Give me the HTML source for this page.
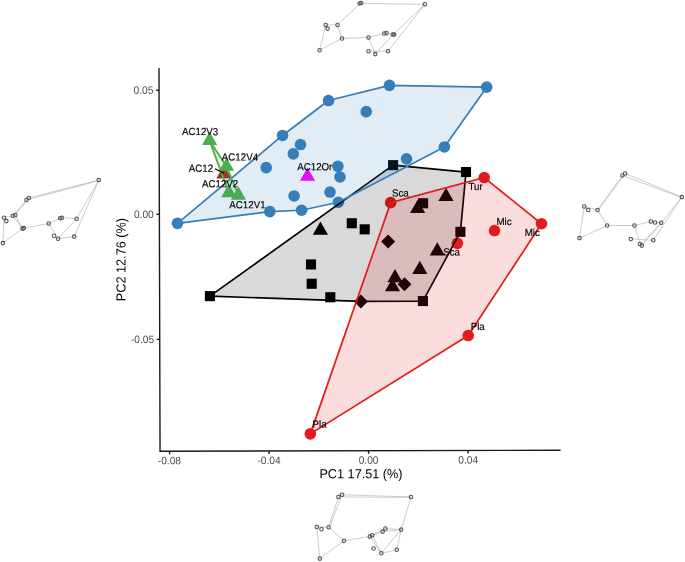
<!DOCTYPE html><html><head><meta charset="utf-8"><style>html,body{margin:0;padding:0;background:#fff;width:685px;height:562px;overflow:hidden}svg{display:block;will-change:transform}text{font-family:"Liberation Sans",sans-serif}</style></head><body>
<svg width="685" height="562" viewBox="0 0 685 562">
<rect width="685" height="562" fill="#fff"/>
<g stroke="#b4b4b4" stroke-width="0.7" fill="none">
<line x1="360.2" y1="3.4" x2="424.8" y2="4.3"/>
<line x1="360.2" y1="3.4" x2="337.5" y2="24.9"/>
<line x1="325.7" y1="24.9" x2="337.5" y2="24.9"/>
<line x1="325.7" y1="24.9" x2="319.6" y2="50.2"/>
<line x1="319.6" y1="50.2" x2="342.0" y2="38.4"/>
<line x1="337.5" y1="24.9" x2="342.0" y2="38.4"/>
<line x1="342.0" y1="38.4" x2="368.5" y2="37.4"/>
<line x1="368.5" y1="37.4" x2="384.3" y2="33.4"/>
<line x1="386.5" y1="33.1" x2="393.4" y2="34.4"/>
<line x1="424.8" y1="4.3" x2="393.4" y2="34.4"/>
<line x1="424.8" y1="4.3" x2="388.0" y2="51.2"/>
<line x1="393.4" y1="34.4" x2="375.3" y2="54.1"/>
<line x1="368.5" y1="37.4" x2="375.3" y2="54.1"/>
<line x1="368.5" y1="51.2" x2="388.0" y2="51.2"/>
<line x1="28.9" y1="197.9" x2="98.8" y2="180.1"/>
<line x1="26.5" y1="200.0" x2="98.8" y2="180.6"/>
<line x1="26.5" y1="200.0" x2="12.8" y2="215.8"/>
<line x1="28.9" y1="197.9" x2="15.3" y2="215.0"/>
<line x1="15.3" y1="215.0" x2="22.5" y2="228.6"/>
<line x1="12.8" y1="215.8" x2="22.5" y2="228.6"/>
<line x1="12.8" y1="215.8" x2="4.0" y2="217.7"/>
<line x1="4.0" y1="217.7" x2="2.9" y2="243.1"/>
<line x1="2.9" y1="243.1" x2="22.5" y2="228.6"/>
<line x1="23.8" y1="228.1" x2="48.7" y2="223.5"/>
<line x1="48.7" y1="223.5" x2="60.2" y2="218.2"/>
<line x1="61.8" y1="217.7" x2="76.6" y2="218.7"/>
<line x1="98.8" y1="180.1" x2="76.6" y2="218.7"/>
<line x1="98.8" y1="180.1" x2="74.2" y2="236.6"/>
<line x1="48.7" y1="223.5" x2="58.1" y2="238.7"/>
<line x1="58.1" y1="238.7" x2="76.6" y2="218.7"/>
<line x1="58.1" y1="238.7" x2="74.2" y2="236.6"/>
<line x1="625.1" y1="173.4" x2="681.8" y2="197.1"/>
<line x1="622.4" y1="175.4" x2="681.8" y2="197.6"/>
<line x1="622.4" y1="175.4" x2="597.5" y2="210.0"/>
<line x1="624.0" y1="175.0" x2="598.5" y2="210.0"/>
<line x1="584.3" y1="206.4" x2="597.5" y2="210.0"/>
<line x1="584.3" y1="206.4" x2="579.5" y2="238.1"/>
<line x1="579.5" y1="238.1" x2="607.1" y2="225.5"/>
<line x1="597.5" y1="210.0" x2="607.1" y2="225.5"/>
<line x1="607.1" y1="225.5" x2="634.4" y2="225.5"/>
<line x1="634.4" y1="225.5" x2="650.8" y2="221.5"/>
<line x1="634.4" y1="225.5" x2="640.8" y2="244.8"/>
<line x1="630.8" y1="238.9" x2="653.3" y2="240.3"/>
<line x1="640.8" y1="244.8" x2="661.2" y2="222.8"/>
<line x1="641.8" y1="245.6" x2="661.2" y2="223.4"/>
<line x1="661.2" y1="222.8" x2="681.8" y2="197.1"/>
<line x1="653.3" y1="240.3" x2="681.8" y2="197.1"/>
<line x1="655.1" y1="222.5" x2="661.2" y2="222.8"/>
<line x1="342.1" y1="494.8" x2="411.0" y2="496.9"/>
<line x1="338.4" y1="496.9" x2="411.0" y2="497.4"/>
<line x1="338.4" y1="496.9" x2="328.6" y2="527.3"/>
<line x1="342.1" y1="494.8" x2="329.6" y2="527.0"/>
<line x1="328.6" y1="527.3" x2="316.8" y2="526.9"/>
<line x1="316.8" y1="526.9" x2="319.8" y2="558.6"/>
<line x1="319.8" y1="558.6" x2="343.9" y2="540.8"/>
<line x1="343.9" y1="540.8" x2="328.6" y2="527.3"/>
<line x1="343.9" y1="540.8" x2="369.8" y2="536.6"/>
<line x1="369.8" y1="536.6" x2="382.6" y2="531.6"/>
<line x1="372.3" y1="535.3" x2="385.4" y2="528.5"/>
<line x1="385.4" y1="528.5" x2="401.2" y2="529.6"/>
<line x1="382.6" y1="531.6" x2="401.2" y2="529.6"/>
<line x1="369.8" y1="536.6" x2="381.3" y2="553.3"/>
<line x1="372.3" y1="535.3" x2="381.3" y2="553.3"/>
<line x1="381.3" y1="553.3" x2="401.2" y2="529.6"/>
<line x1="381.3" y1="553.3" x2="396.8" y2="549.8"/>
<line x1="396.8" y1="549.8" x2="401.2" y2="529.6"/>
<line x1="401.2" y1="529.6" x2="411.0" y2="496.9"/>
</g><g stroke="#505050" stroke-width="1.05" fill="none">
<circle cx="359.6" cy="3.5" r="1.75"/>
<circle cx="361.2" cy="3.0" r="1.75"/>
<circle cx="424.8" cy="4.3" r="1.75"/>
<circle cx="325.7" cy="24.9" r="1.75"/>
<circle cx="327.6" cy="28.6" r="1.75"/>
<circle cx="337.5" cy="24.9" r="1.75"/>
<circle cx="342.0" cy="38.4" r="1.75"/>
<circle cx="319.6" cy="50.2" r="1.75"/>
<circle cx="368.5" cy="37.4" r="1.75"/>
<circle cx="384.3" cy="33.4" r="1.75"/>
<circle cx="386.5" cy="33.1" r="1.75"/>
<circle cx="392.8" cy="34.5" r="1.75"/>
<circle cx="394.2" cy="34.5" r="1.75"/>
<circle cx="368.5" cy="51.2" r="1.75"/>
<circle cx="375.3" cy="54.1" r="1.75"/>
<circle cx="388.0" cy="51.2" r="1.75"/>
<circle cx="98.8" cy="180.1" r="1.75"/>
<circle cx="26.5" cy="200.0" r="1.75"/>
<circle cx="28.9" cy="197.9" r="1.75"/>
<circle cx="12.8" cy="215.8" r="1.75"/>
<circle cx="15.3" cy="215.0" r="1.75"/>
<circle cx="4.0" cy="217.7" r="1.75"/>
<circle cx="6.4" cy="221.1" r="1.75"/>
<circle cx="22.5" cy="228.6" r="1.75"/>
<circle cx="23.8" cy="228.1" r="1.75"/>
<circle cx="2.9" cy="243.1" r="1.75"/>
<circle cx="48.7" cy="223.5" r="1.75"/>
<circle cx="60.2" cy="218.2" r="1.75"/>
<circle cx="61.8" cy="217.7" r="1.75"/>
<circle cx="76.6" cy="218.7" r="1.75"/>
<circle cx="54.1" cy="235.8" r="1.75"/>
<circle cx="58.1" cy="238.7" r="1.75"/>
<circle cx="74.2" cy="236.6" r="1.75"/>
<circle cx="622.4" cy="175.4" r="1.75"/>
<circle cx="625.1" cy="173.4" r="1.75"/>
<circle cx="681.8" cy="197.1" r="1.75"/>
<circle cx="584.3" cy="206.4" r="1.75"/>
<circle cx="588.2" cy="210.0" r="1.75"/>
<circle cx="597.5" cy="210.0" r="1.75"/>
<circle cx="607.1" cy="225.5" r="1.75"/>
<circle cx="579.5" cy="238.1" r="1.75"/>
<circle cx="634.4" cy="225.5" r="1.75"/>
<circle cx="650.8" cy="221.5" r="1.75"/>
<circle cx="655.1" cy="222.5" r="1.75"/>
<circle cx="661.2" cy="222.8" r="1.75"/>
<circle cx="630.8" cy="238.9" r="1.75"/>
<circle cx="639.8" cy="244.0" r="1.75"/>
<circle cx="641.8" cy="245.6" r="1.75"/>
<circle cx="653.3" cy="240.3" r="1.75"/>
<circle cx="338.4" cy="496.9" r="1.75"/>
<circle cx="342.1" cy="494.8" r="1.75"/>
<circle cx="411.0" cy="496.9" r="1.75"/>
<circle cx="316.8" cy="526.9" r="1.75"/>
<circle cx="321.5" cy="529.3" r="1.75"/>
<circle cx="328.6" cy="527.3" r="1.75"/>
<circle cx="343.9" cy="540.8" r="1.75"/>
<circle cx="319.8" cy="558.6" r="1.75"/>
<circle cx="369.8" cy="536.6" r="1.75"/>
<circle cx="372.3" cy="535.3" r="1.75"/>
<circle cx="382.6" cy="531.6" r="1.75"/>
<circle cx="385.4" cy="528.5" r="1.75"/>
<circle cx="401.2" cy="529.6" r="1.75"/>
<circle cx="373.6" cy="548.5" r="1.75"/>
<circle cx="381.3" cy="553.3" r="1.75"/>
<circle cx="396.8" cy="549.8" r="1.75"/>
</g>
<g stroke="#1a1a1a" stroke-width="1.4" fill="none">
<polyline points="158.97,68 160.05,451.31 560.6,450.27"/>
<line x1="156.03" y1="90.2" x2="159.03" y2="90.2"/>
<line x1="156.38" y1="214.3" x2="159.38" y2="214.3"/>
<line x1="156.73" y1="339.4" x2="159.73" y2="339.4"/>
<line x1="169.6" y1="451.29" x2="169.6" y2="454.29"/>
<line x1="269.1" y1="451.03" x2="269.1" y2="454.03"/>
<line x1="368.6" y1="450.77" x2="368.6" y2="453.77"/>
<line x1="468.1" y1="450.51" x2="468.1" y2="453.51"/>
</g>
<g font-size="10.2" fill="#4d4d4d">
<text transform="translate(153.43,93.8) scale(1,1.04) rotate(0.05)" text-anchor="end">0.05</text>
<text transform="translate(153.78,217.9) scale(1,1.04) rotate(0.05)" text-anchor="end">0.00</text>
<text transform="translate(154.13,343.0) scale(1,1.04) rotate(0.05)" text-anchor="end">-0.05</text>
<text transform="translate(169.4,464.19) scale(1,1.04) rotate(0.05)" text-anchor="middle">-0.08</text>
<text transform="translate(269.0,463.93) scale(1,1.04) rotate(0.05)" text-anchor="middle">-0.04</text>
<text transform="translate(368.6,463.67) scale(1,1.04) rotate(0.05)" text-anchor="middle">0.00</text>
<text transform="translate(468.2,463.41) scale(1,1.04) rotate(0.05)" text-anchor="middle">0.04</text>
</g>
<text transform="translate(319.4,478.2) scale(1,1.04) rotate(0.05)" font-size="12.7" fill="#000">PC1 17.51 (%)</text>
<text transform="translate(125.6,259.6) rotate(-90) scale(1,1.04) rotate(0.05)" x="0" y="0" font-size="12.7" fill="#000" text-anchor="middle">PC2 12.76 (%)</text>
<g transform="translate(0,0.35)">
<polygon points="223.90,165.02 231.50,178.19 216.30,178.19" fill="#A52A2A"/>
<polygon points="209.60,131.52 217.20,144.69 202.00,144.69" fill="#4DAF4A"/>
<polygon points="226.60,157.32 234.20,170.49 219.00,170.49" fill="#4DAF4A"/>
<polygon points="238.40,186.12 246.00,199.29 230.80,199.29" fill="#4DAF4A"/>
<polygon points="228.80,183.72 236.40,196.89 221.20,196.89" fill="#4DAF4A"/>
<polygon points="307.50,167.22 315.10,180.39 299.90,180.39" fill="#FF00FF"/>
<circle cx="177.50" cy="223.00" r="5.8" fill="#377EB8"/>
<circle cx="282.50" cy="135.10" r="5.8" fill="#377EB8"/>
<circle cx="328.50" cy="100.20" r="5.8" fill="#377EB8"/>
<circle cx="389.50" cy="85.00" r="5.8" fill="#377EB8"/>
<circle cx="486.70" cy="86.80" r="5.8" fill="#377EB8"/>
<circle cx="366.20" cy="111.30" r="5.8" fill="#377EB8"/>
<circle cx="444.40" cy="146.60" r="5.8" fill="#377EB8"/>
<circle cx="406.50" cy="158.50" r="5.8" fill="#377EB8"/>
<circle cx="300.50" cy="144.20" r="5.8" fill="#377EB8"/>
<circle cx="293.30" cy="153.50" r="5.8" fill="#377EB8"/>
<circle cx="266.20" cy="167.30" r="5.8" fill="#377EB8"/>
<circle cx="337.90" cy="166.00" r="5.8" fill="#377EB8"/>
<circle cx="340.00" cy="176.60" r="5.8" fill="#377EB8"/>
<circle cx="294.10" cy="195.60" r="5.8" fill="#377EB8"/>
<circle cx="330.00" cy="191.70" r="5.8" fill="#377EB8"/>
<circle cx="269.80" cy="211.30" r="5.8" fill="#377EB8"/>
<circle cx="301.60" cy="209.90" r="5.8" fill="#377EB8"/>
<circle cx="338.30" cy="201.90" r="5.8" fill="#377EB8"/>
<rect x="388.05" y="159.75" width="10.1" height="10.1" fill="#000"/>
<rect x="460.95" y="166.65" width="10.1" height="10.1" fill="#000"/>
<rect x="418.05" y="197.85" width="10.1" height="10.1" fill="#000"/>
<rect x="455.35" y="226.45" width="10.1" height="10.1" fill="#000"/>
<rect x="417.85" y="295.65" width="10.1" height="10.1" fill="#000"/>
<rect x="346.75" y="217.85" width="10.1" height="10.1" fill="#000"/>
<rect x="359.65" y="223.95" width="10.1" height="10.1" fill="#000"/>
<rect x="305.95" y="259.05" width="10.1" height="10.1" fill="#000"/>
<rect x="306.65" y="278.35" width="10.1" height="10.1" fill="#000"/>
<rect x="325.25" y="291.85" width="10.1" height="10.1" fill="#000"/>
<rect x="204.85" y="290.75" width="10.1" height="10.1" fill="#000"/>
<polygon points="320.40,221.22 328.00,234.39 312.80,234.39" fill="#000"/>
<polygon points="446.00,187.52 453.60,200.69 438.40,200.69" fill="#000"/>
<polygon points="417.60,199.52 425.20,212.69 410.00,212.69" fill="#000"/>
<polygon points="437.30,241.92 444.90,255.09 429.70,255.09" fill="#000"/>
<polygon points="419.80,260.52 427.40,273.69 412.20,273.69" fill="#000"/>
<polygon points="395.00,268.62 402.60,281.79 387.40,281.79" fill="#000"/>
<polygon points="392.50,277.82 400.10,290.99 384.90,290.99" fill="#000"/>
<polygon points="388.10,234.10 395.10,241.10 388.10,248.10 381.10,241.10" fill="#000"/>
<polygon points="404.50,276.90 411.50,283.90 404.50,290.90 397.50,283.90" fill="#000"/>
<polygon points="360.90,294.10 367.90,301.10 360.90,308.10 353.90,301.10" fill="#000"/>
<circle cx="390.70" cy="202.30" r="5.8" fill="#E41A1C"/>
<circle cx="484.20" cy="177.20" r="5.8" fill="#E41A1C"/>
<circle cx="541.50" cy="223.40" r="5.8" fill="#E41A1C"/>
<circle cx="494.50" cy="230.20" r="5.8" fill="#E41A1C"/>
<circle cx="457.40" cy="243.00" r="5.8" fill="#E41A1C"/>
<circle cx="468.20" cy="335.20" r="5.8" fill="#E41A1C"/>
<circle cx="310.30" cy="433.50" r="5.8" fill="#E41A1C"/>
<polygon points="209.90,295.80 393.10,164.80 466.00,171.70 460.40,231.50 422.90,300.70 360.90,301.10" fill="#000" fill-opacity="0.15" stroke="#000" stroke-width="1.7" stroke-linejoin="round"/>
<polygon points="177.50,223.00 282.50,135.10 328.50,100.20 389.50,85.00 486.70,86.80 444.40,146.60 338.30,201.90 301.60,209.90 269.80,211.30" fill="#377EB8" fill-opacity="0.15" stroke="#377EB8" stroke-width="1.7" stroke-linejoin="round"/>
<polygon points="209.60,140.30 226.60,166.10 238.40,194.90 228.80,192.50" fill="#4DAF4A" fill-opacity="0.15" stroke="#4DAF4A" stroke-width="1.8" stroke-linejoin="round"/>
<polygon points="310.30,433.50 390.70,202.30 484.20,177.20 541.50,223.40 468.20,335.20" fill="#E41A1C" fill-opacity="0.15" stroke="#E41A1C" stroke-width="1.7" stroke-linejoin="round"/>
</g>
<g font-size="9.75" fill="#000" stroke="#000" stroke-width="0.15">
<text transform="translate(182.0,135.1) scale(1,1.06) rotate(0.05)">AC12V3</text>
<text transform="translate(221.8,160.6) scale(1,1.06) rotate(0.05)">AC12V4</text>
<text transform="translate(188.7,171.8) scale(1,1.06) rotate(0.05)">AC12</text>
<text transform="translate(202.0,187.3) scale(1,1.06) rotate(0.05)">AC12V2</text>
<text transform="translate(229.3,208.3) scale(1,1.06) rotate(0.05)">AC12V1</text>
<text transform="translate(297.2,170.3) scale(1,1.06) rotate(0.05)">AC12Or</text>
<text transform="translate(391.9,196.6) scale(1,1.06) rotate(0.05)">Sca</text>
<text transform="translate(468.4,190.0) scale(1,1.06) rotate(0.05)">Tur</text>
<text transform="translate(496.4,225.0) scale(1,1.06) rotate(0.05)">Mic</text>
<text transform="translate(524.7,236.0) scale(1,1.06) rotate(0.05)">Mic</text>
<text transform="translate(443.2,255.4) scale(1,1.06) rotate(0.05)">Sca</text>
<text transform="translate(470.7,330.0) scale(1,1.06) rotate(0.05)">Pla</text>
<text transform="translate(312.6,427.6) scale(1,1.06) rotate(0.05)">Pla</text>
</g>
<line x1="215.0" y1="168.8" x2="223.8" y2="173.2" stroke="#000" stroke-width="1.2"/>
</svg></body></html>
